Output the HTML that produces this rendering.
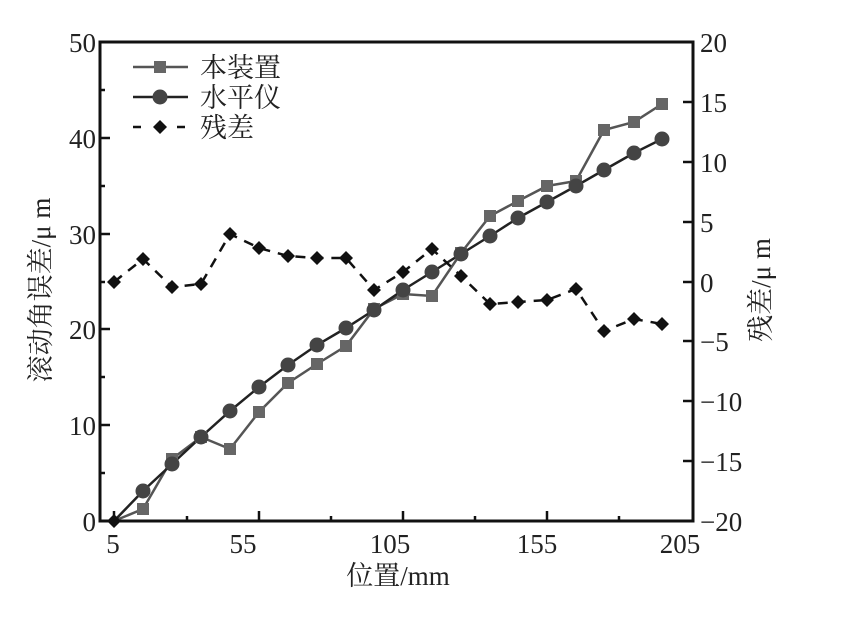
<!DOCTYPE html>
<html><head><meta charset="utf-8"><style>body{margin:0;background:#fff}</style></head><body>
<svg width="856" height="614" xmlns="http://www.w3.org/2000/svg" font-family="Liberation Serif, 'Noto Serif CJK SC', serif">
<rect width="856" height="614" fill="#fff"/>
<g stroke="#111" stroke-width="3" fill="none">
<rect x="100" y="42" width="593" height="479"/>
</g>
<g stroke="#111" stroke-width="2.5">
<!-- left ticks -->
<line x1="100" y1="42" x2="110" y2="42"/><line x1="100" y1="138" x2="110" y2="138"/><line x1="100" y1="234" x2="110" y2="234"/><line x1="100" y1="329" x2="110" y2="329"/><line x1="100" y1="425" x2="110" y2="425"/>
<line x1="100" y1="90" x2="105" y2="90"/><line x1="100" y1="186" x2="105" y2="186"/><line x1="100" y1="282" x2="105" y2="282"/><line x1="100" y1="377" x2="105" y2="377"/><line x1="100" y1="473" x2="105" y2="473"/>
<!-- right ticks -->
<line x1="683" y1="42" x2="693" y2="42"/><line x1="683" y1="102" x2="693" y2="102"/><line x1="683" y1="162" x2="693" y2="162"/><line x1="683" y1="222" x2="693" y2="222"/><line x1="683" y1="282" x2="693" y2="282"/><line x1="683" y1="341" x2="693" y2="341"/><line x1="683" y1="401" x2="693" y2="401"/><line x1="683" y1="461" x2="693" y2="461"/>
<!-- x ticks -->
<line x1="114" y1="521" x2="114" y2="511"/><line x1="259" y1="521" x2="259" y2="511"/><line x1="403" y1="521" x2="403" y2="511"/><line x1="547" y1="521" x2="547" y2="511"/>
<line x1="187" y1="521" x2="187" y2="516"/><line x1="331" y1="521" x2="331" y2="516"/><line x1="475" y1="521" x2="475" y2="516"/><line x1="619" y1="521" x2="619" y2="516"/>
</g>
<g font-size="27" fill="#222">
<g text-anchor="end">
<text x="96" y="52">50</text><text x="96" y="148">40</text><text x="96" y="244">30</text><text x="96" y="339">20</text><text x="96" y="435">10</text><text x="96" y="531">0</text>
</g>
<g text-anchor="start">
<text x="700" y="52">20</text><text x="700" y="112">15</text><text x="700" y="172">10</text><text x="700" y="232">5</text><text x="700" y="292">0</text><text x="700" y="351">−5</text><text x="700" y="411">−10</text><text x="700" y="471">−15</text><text x="700" y="531">−20</text>
</g>
<g text-anchor="middle">
<text x="113" y="553">5</text><text x="243" y="553">55</text><text x="390" y="553">105</text><text x="537" y="553">155</text><text x="680" y="553">205</text>
<text x="398" y="585">位置/mm</text>
</g>
<text transform="translate(50,290) rotate(-90)" text-anchor="middle">滚动角误差/μ m</text>
<text transform="translate(770,290) rotate(-90)" text-anchor="middle">残差/μ m</text>
</g>
<!-- series -->
<polyline fill="none" stroke="#555" stroke-width="2.5" points="114,521 143,509 172,459 201,437 230,449 259,412 288,383 317,364 346,346 374,309 403,294 432,296 461,253 490,216 518,201 547,186 576,181 604,130 634,122 662,104"/>
<polyline fill="none" stroke="#222" stroke-width="2.5" points="114,521 143,491 172,464 201,437 230,411 259,387 288,365 317,345 346,328 374,310 403,290 432,272 461,254 490,236 518,218 547,202 576,186 604,170 634,153 662,139"/>
<polyline fill="none" stroke="#111" stroke-width="2.5" stroke-dasharray="10,8" points="114,282 143,259 172,287 201,284 230,234 259,248 288,256 317,258 346,258 374,290 403,272 432,249 461,276 490,304 518,302 547,300 576,289 604,331 634,319 662,324"/>
<g fill="#666">
<rect x="137" y="503" width="12" height="12"/><rect x="166" y="453" width="12" height="12"/><rect x="195" y="431" width="12" height="12"/><rect x="224" y="443" width="12" height="12"/><rect x="253" y="406" width="12" height="12"/><rect x="282" y="377" width="12" height="12"/><rect x="311" y="358" width="12" height="12"/><rect x="340" y="340" width="12" height="12"/><rect x="368" y="303" width="12" height="12"/><rect x="397" y="288" width="12" height="12"/><rect x="426" y="290" width="12" height="12"/><rect x="455" y="247" width="12" height="12"/><rect x="484" y="210" width="12" height="12"/><rect x="512" y="195" width="12" height="12"/><rect x="541" y="180" width="12" height="12"/><rect x="570" y="175" width="12" height="12"/><rect x="598" y="124" width="12" height="12"/><rect x="628" y="116" width="12" height="12"/><rect x="656" y="98" width="12" height="12"/>
</g>
<g fill="#444">
<circle cx="143" cy="491" r="7.5"/><circle cx="172" cy="464" r="7.5"/><circle cx="201" cy="437" r="7.5"/><circle cx="230" cy="411" r="7.5"/><circle cx="259" cy="387" r="7.5"/><circle cx="288" cy="365" r="7.5"/><circle cx="317" cy="345" r="7.5"/><circle cx="346" cy="328" r="7.5"/><circle cx="374" cy="310" r="7.5"/><circle cx="403" cy="290" r="7.5"/><circle cx="432" cy="272" r="7.5"/><circle cx="461" cy="254" r="7.5"/><circle cx="490" cy="236" r="7.5"/><circle cx="518" cy="218" r="7.5"/><circle cx="547" cy="202" r="7.5"/><circle cx="576" cy="186" r="7.5"/><circle cx="604" cy="170" r="7.5"/><circle cx="634" cy="153" r="7.5"/><circle cx="662" cy="139" r="7.5"/>
</g>
<g fill="#111">
<path d="M114,275l7,7l-7,7l-7,-7z M143,252l7,7l-7,7l-7,-7z M172,280l7,7l-7,7l-7,-7z M201,277l7,7l-7,7l-7,-7z M230,227l7,7l-7,7l-7,-7z M259,241l7,7l-7,7l-7,-7z M288,249l7,7l-7,7l-7,-7z M317,251l7,7l-7,7l-7,-7z M346,251l7,7l-7,7l-7,-7z M374,283l7,7l-7,7l-7,-7z M403,265l7,7l-7,7l-7,-7z M432,242l7,7l-7,7l-7,-7z M461,269l7,7l-7,7l-7,-7z M490,297l7,7l-7,7l-7,-7z M518,295l7,7l-7,7l-7,-7z M547,293l7,7l-7,7l-7,-7z M576,282l7,7l-7,7l-7,-7z M604,324l7,7l-7,7l-7,-7z M634,312l7,7l-7,7l-7,-7z M662,317l7,7l-7,7l-7,-7z M114,514l7,7l-7,7l-7,-7z"/>
</g>
<!-- legend -->
<line x1="133" y1="67" x2="188" y2="67" stroke="#555" stroke-width="2.5"/><rect x="154" y="61" width="12" height="12" fill="#666"/>
<line x1="133" y1="97" x2="188" y2="97" stroke="#222" stroke-width="2.5"/><circle cx="160" cy="97" r="7.5" fill="#444"/>
<line x1="133" y1="127" x2="188" y2="127" stroke="#111" stroke-width="2.5" stroke-dasharray="8,14"/><path d="M160,120l7,7l-7,7l-7,-7z" fill="#111"/>
<g font-size="27" fill="#222"><text x="200" y="77">本装置</text><text x="200" y="107">水平仪</text><text x="200" y="137">残差</text></g>
</svg>
</body></html>
